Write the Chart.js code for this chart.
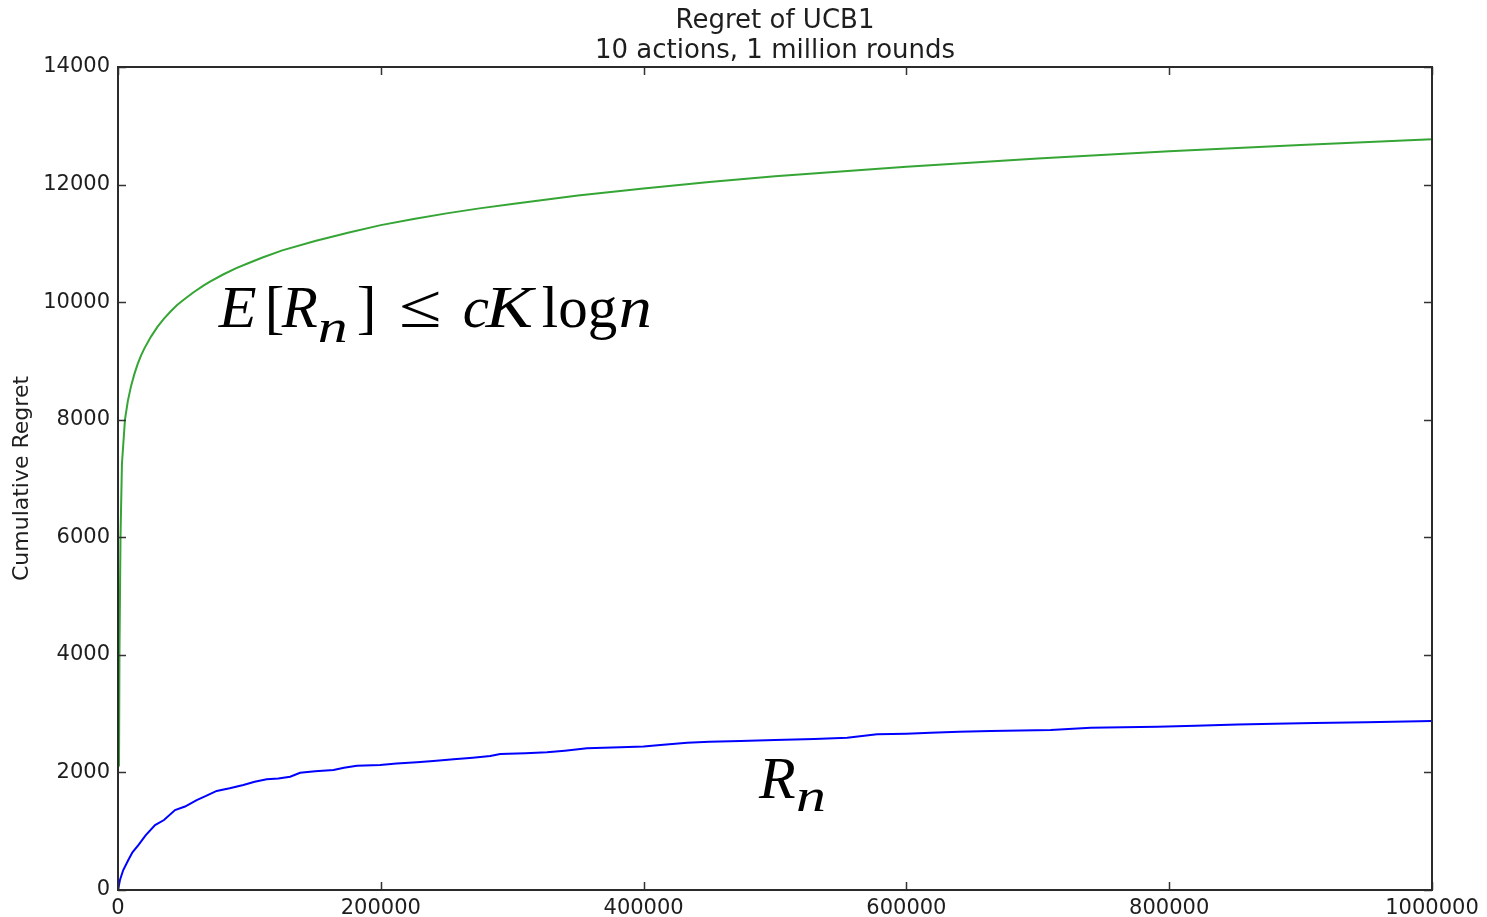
<!DOCTYPE html>
<html><head><meta charset="utf-8">
<script src="https://cdn.jsdelivr.net/npm/chart.js@4"></script>
<style>html,body{margin:0;padding:0;background:#fff;overflow:hidden}</style>
</head><body>
<canvas id="c" width="1487" height="917"></canvas>
<script>
const titleLines = ['Regret of UCB1', '10 actions, 1 million rounds'];
const yAxisTitle = 'Cumulative Regret';
const xTicks = [0, 200000, 400000, 600000, 800000, 1000000];
const yTicks = [0, 2000, 4000, 6000, 8000, 10000, 12000, 14000];

// Upper bound curve (green)
const boundRounds = [760, 1100, 1900, 3000, 5300, 7500, 10000, 12500, 15000, 17500, 20000, 25000, 30000, 35000, 40000, 45000, 50000, 57000, 65000, 70000, 80000, 90000, 100000, 110000, 125000, 150000, 175000, 200000, 225000, 250000, 275000, 300000, 350000, 400000, 450000, 500000, 600000, 700000, 800000, 900000, 1000000];
const boundRegret = [2100, 4000, 6000, 7250, 8000, 8320, 8580, 8780, 8950, 9090, 9210, 9410, 9580, 9720, 9840, 9950, 10040, 10160, 10280, 10350, 10470, 10580, 10670, 10760, 10880, 11040, 11180, 11310, 11415, 11510, 11595, 11670, 11815, 11935, 12045, 12140, 12305, 12445, 12565, 12675, 12770];

// Observed cumulative regret (blue)
const actualRounds = [0, 1500, 4000, 7850, 11000, 15500, 21000, 28200, 35000, 43400, 51000, 59900, 67000, 75100, 85000, 95400, 104000, 113200, 122000, 131000, 138600, 150000, 164000, 172000, 181800, 199500, 212000, 227500, 240000, 255400, 270000, 283300, 290900, 310000, 326400, 340000, 356900, 382300, 400000, 412800, 433100, 450000, 473700, 500000, 530000, 554900, 577700, 600000, 618400, 640000, 664100, 709800, 740300, 765000, 791000, 820000, 852000, 880000, 910400, 950000, 1000000];
const actualRegret = [0, 170, 340, 510, 640, 765, 930, 1105, 1190, 1360, 1420, 1530, 1600, 1685, 1730, 1786, 1840, 1883, 1895, 1927, 1995, 2020, 2041, 2080, 2114, 2126, 2150, 2172, 2195, 2223, 2250, 2280, 2313, 2325, 2342, 2370, 2410, 2427, 2440, 2467, 2506, 2520, 2535, 2550, 2570, 2591, 2649, 2660, 2676, 2690, 2705, 2722, 2761, 2770, 2778, 2795, 2817, 2830, 2841, 2855, 2875];

// Annotation anchors (data coordinates)
const boundLabelAnchor = [79000, 9580];
const actualLabelAnchor = [490200, 1560];

const SANS = 'DejaVu Sans';
const SERIF = 'Liberation Serif';
const TXT = '#1e1e1e';

function toPoints(xs, ys) { return xs.map((x, i) => ({x: x, y: ys[i]})); }

const frameAndTicks = {
  id: 'frameAndTicks',
  afterDatasetsDraw(chart) {
    const ctx = chart.ctx;
    const {left, right, top, bottom} = chart.chartArea;
    const xs = chart.scales.x, ys = chart.scales.y;
    ctx.save();
    ctx.strokeStyle = '#333333';
    ctx.lineWidth = 1.5;
    ctx.beginPath();
    xs.ticks.forEach(t => {
      const p = Math.round(xs.getPixelForValue(t.value)) + 0.5;
      ctx.moveTo(p, bottom); ctx.lineTo(p, bottom - 8);
      ctx.moveTo(p, top); ctx.lineTo(p, top + 8);
    });
    ys.ticks.forEach(t => {
      const p = Math.round(ys.getPixelForValue(t.value)) + 0.5;
      ctx.moveTo(left, p); ctx.lineTo(left + 8, p);
      ctx.moveTo(right, p); ctx.lineTo(right - 8, p);
    });
    ctx.stroke();
    ctx.lineWidth = 2;
    ctx.strokeStyle = '#2b2b2b';
    ctx.strokeRect(left, top, right - left, bottom - top);
    ctx.restore();
  }
};

const plotTitle = {
  id: 'plotTitle',
  afterDraw(chart) {
    const ctx = chart.ctx;
    const {left, right} = chart.chartArea;
    ctx.save();
    ctx.fillStyle = TXT;
    ctx.font = '26px "' + SANS + '"';
    ctx.textAlign = 'center';
    ctx.textBaseline = 'middle';
    titleLines.forEach((line, i) => ctx.fillText(line, (left + right) / 2, 21 + i * 30));
    ctx.restore();
  }
};

function drawMath(ctx, x, y, parts) {
  parts.forEach(p => {
    ctx.save();
    ctx.font = (p.it ? 'italic ' : '') + p.size + 'px "' + SERIF + '"';
    ctx.translate(x + p.dx, y + (p.dy || 0));
    ctx.scale(p.sx || 1, 1);
    ctx.fillText(p.t, 0, 0);
    ctx.restore();
  });
}

const mathLabels = {
  id: 'mathLabels',
  afterDraw(chart) {
    const ctx = chart.ctx;
    const xs = chart.scales.x, ys = chart.scales.y;
    ctx.save();
    ctx.fillStyle = '#000';
    ctx.textBaseline = 'alphabetic';
    ctx.textAlign = 'left';
    const bx = xs.getPixelForValue(boundLabelAnchor[0]);
    const by = ys.getPixelForValue(boundLabelAnchor[1]);
    drawMath(ctx, bx, by, [
      {t: 'E', it: true, size: 59, dx: -3, sx: 1.05},
      {t: '[', size: 59, dx: 43},
      {t: 'R', it: true, size: 59, dx: 60},
      {t: 'n', it: true, size: 46, dx: 96, dy: 15, sx: 1.3},
      {t: ']', size: 59, dx: 135},
      {t: '\u2264', size: 62, dx: 177, sx: 1.25},
      {t: 'c', it: true, size: 59, dx: 241},
      {t: 'K', it: true, size: 59, dx: 264, sx: 1.2},
      {t: 'log', size: 59, dx: 320},
      {t: 'n', it: true, size: 59, dx: 397, sx: 1.12}
    ]);
    const rx = xs.getPixelForValue(actualLabelAnchor[0]);
    const ry = ys.getPixelForValue(actualLabelAnchor[1]);
    drawMath(ctx, rx, ry, [
      {t: 'R', it: true, size: 60, dx: -3},
      {t: 'n', it: true, size: 46, dx: 34, dy: 13, sx: 1.3}
    ]);
    ctx.restore();
  }
};

new Chart(document.getElementById('c'), {
  type: 'line',
  data: {
    datasets: [
      {data: toPoints(boundRounds, boundRegret), borderColor: '#35a535', borderWidth: 2, pointRadius: 0, tension: 0, fill: false},
      {data: toPoints(actualRounds, actualRegret), borderColor: '#0000ff', borderWidth: 2, pointRadius: 0, tension: 0, fill: false}
    ]
  },
  options: {
    responsive: false,
    animation: false,
    events: [],
    layout: {padding: {left: 0, right: 55, top: 67, bottom: 0}},
    plugins: {
      legend: {display: false},
      tooltip: {enabled: false},
      title: {display: false}
    },
    scales: {
      x: {
        type: 'linear', min: 0, max: 1000000,
        afterBuildTicks: s => { s.ticks = xTicks.map(v => ({value: v})); },
        afterFit: s => { s.height = 27; },
        grid: {display: false, drawTicks: false}, border: {display: false},
        ticks: {color: TXT, font: {family: SANS, size: 21}, padding: 6, maxRotation: 0, autoSkip: false, callback: v => String(v)}
      },
      y: {
        type: 'linear', min: 0, max: 14000,
        afterBuildTicks: s => { s.ticks = yTicks.map(v => ({value: v})); },
        afterFit: s => { s.width = 118; },
        grid: {display: false, drawTicks: false}, border: {display: false},
        ticks: {color: TXT, font: {family: SANS, size: 21}, padding: 8, autoSkip: false, callback: v => String(v)},
        title: {display: true, text: yAxisTitle, color: TXT, font: {family: SANS, size: 22}, padding: {top: 9, bottom: 0}}
      }
    }
  },
  plugins: [frameAndTicks, plotTitle, mathLabels]
});
</script>
</body></html>
